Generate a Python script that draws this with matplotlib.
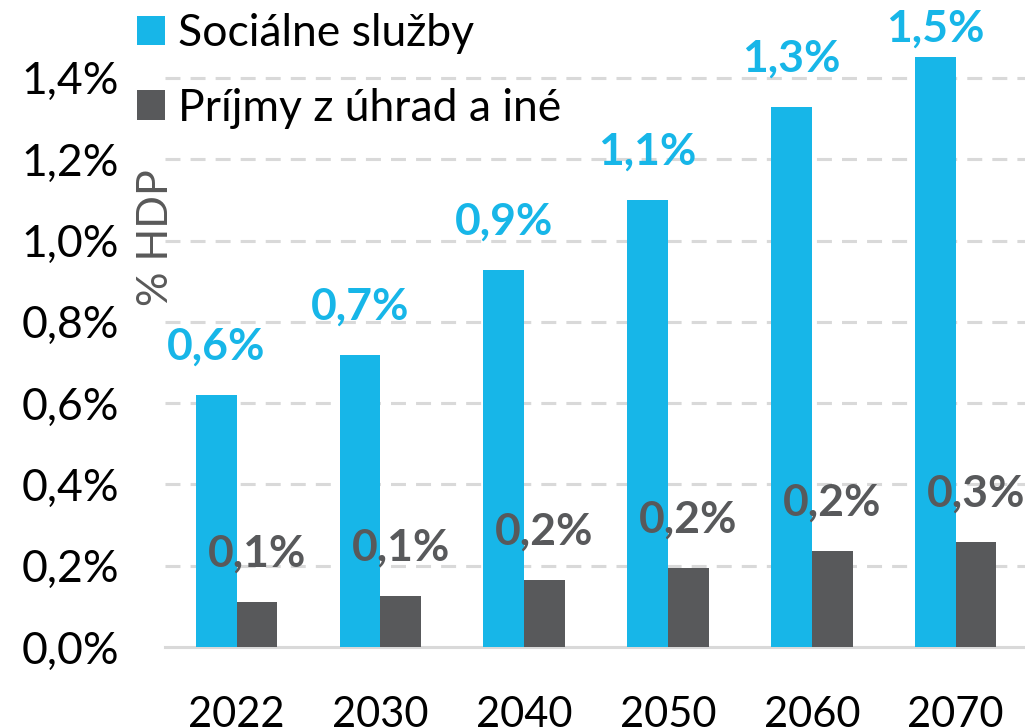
import matplotlib
matplotlib.use('Agg')
import matplotlib.pyplot as plt
from matplotlib.patches import Patch

plt.rcParams['font.family'] = ['Lato', 'DejaVu Sans']

# data (% of GDP)
years = ['2022', '2030', '2040', '2050', '2060', '2070']
social = [0.62, 0.718, 0.927, 1.10, 1.328, 1.452]
receipts = [0.110, 0.126, 0.165, 0.194, 0.236, 0.259]
series_names = ['Sociálne služby', 'Príjmy z úhrad a iné']
yticks = [0.0, 0.2, 0.4, 0.6, 0.8, 1.0, 1.2, 1.4]

blue = '#17B6E8'
gray = '#58595B'
grid = '#D9D9D9'
fs = 32

W, H = 1025, 728
fig = plt.figure(figsize=(W / 100, H / 100), dpi=100)
ax = fig.add_axes([164.6 / W, 1 - 647 / H, 863 / W, 647 / H])

x = list(range(len(years)))
bw = 0.283
ax.bar([i - bw / 2 for i in x], social, width=bw, color=blue, zorder=3)
ax.bar([i + bw / 2 for i in x], receipts, width=bw, color=gray, zorder=3)

ytop = 1.5917
ax.set_xlim(-0.5, 5.5)
ax.set_ylim(0, ytop)

# data labels, Excel pushes the top one inside the plot area
off = 0.087
for i, v in enumerate(social):
    ax.text(i - bw / 2, min(v + off, ytop - 0.103), ('%.1f%%' % v).replace('.', ','),
            ha='center', va='baseline', fontsize=fs, fontweight='bold', color=blue, zorder=4)
for i, v in enumerate(receipts):
    ax.text(i + bw / 2, v + off, ('%.1f%%' % v).replace('.', ','),
            ha='center', va='baseline', fontsize=fs, fontweight='bold', color=gray, zorder=4)

ax.set_yticks(yticks)
ax.set_yticklabels([('%.1f%%' % t).replace('.', ',') for t in yticks], fontsize=fs)
ax.set_xticks(x)
ax.set_xticklabels(years, fontsize=30)
ax.tick_params(axis='y', length=0, pad=33)
ax.tick_params(axis='x', length=0, pad=35)

for t in yticks[1:]:
    ax.axhline(t, color=grid, lw=2.2, linestyle=(0, (4.9, 3.3)), zorder=1)
for s in ['top', 'right', 'left']:
    ax.spines[s].set_visible(False)
ax.spines['bottom'].set_color(grid)
ax.spines['bottom'].set_linewidth(2.2)

fig.text(156 / W, 1 - 238 / H, '% HDP', rotation=90, ha='center', va='center',
         fontsize=31, color='#595959')

handles = [Patch(facecolor=blue), Patch(facecolor=gray)]
leg = fig.legend(handles, series_names, loc='upper left', bbox_to_anchor=(124 / W, 1.0),
                 frameon=False, fontsize=fs, handlelength=0.63, handleheight=0.63,
                 handletextpad=0.29, labelspacing=0.75, borderpad=0.3, borderaxespad=0)

fig.savefig('out.png', dpi=100)
